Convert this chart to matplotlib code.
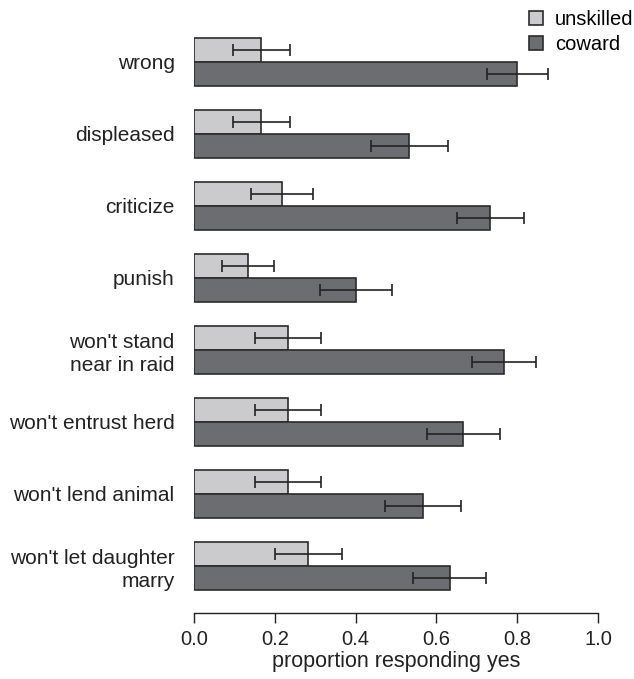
import matplotlib.pyplot as plt
from matplotlib.patches import Patch
import numpy as np

plt.rcParams['font.family'] = ['Liberation Sans', 'DejaVu Sans']

questions = ["wrong", "displeased", "criticize", "punish",
             "won't stand\nnear in raid", "won't entrust herd",
             "won't lend animal", "won't let daughter\nmarry"]

# proportion answering yes, with standard errors
unskilled = [0.167, 0.167, 0.217, 0.133, 0.233, 0.233, 0.233, 0.283]
unskilled_se = [0.070, 0.071, 0.077, 0.064, 0.081, 0.081, 0.081, 0.083]
coward = [0.800, 0.533, 0.733, 0.400, 0.767, 0.667, 0.567, 0.633]
coward_se = [0.075, 0.095, 0.083, 0.089, 0.080, 0.090, 0.095, 0.090]

light = "#cbcbcd"
dark = "#6c6d71"
edge = "#2b2b2b"
ink = "#222222"

fig = plt.figure(figsize=(6.34, 6.79), dpi=100)
ax = fig.add_axes([194 / 634, 1 - 613 / 679, 404 / 634, 583 / 679])

pos = np.arange(len(questions))
h = 1 / 3

ax.barh(pos - h / 2, unskilled, height=h, color=light, edgecolor=edge, linewidth=1.2)
ax.barh(pos + h / 2, coward, height=h, color=dark, edgecolor=edge, linewidth=1.2)
ax.errorbar(unskilled, pos - h / 2, xerr=unskilled_se, fmt='none', ecolor=ink,
            elinewidth=1.2, capsize=4.5, capthick=1.2)
ax.errorbar(coward, pos + h / 2, xerr=coward_se, fmt='none', ecolor=ink,
            elinewidth=1.2, capsize=4.5, capthick=1.2)

ax.set_xlim(0, 1.0)
ax.set_ylim(7.653, -0.444)

for s in ["top", "right", "left"]:
    ax.spines[s].set_visible(False)
ax.spines["bottom"].set_linewidth(1.0)
ax.spines["bottom"].set_color(ink)

ax.set_xticks([0, 0.2, 0.4, 0.6, 0.8, 1.0])
ax.set_xticklabels(["0.0", "0.2", "0.4", "0.6", "0.8", "1.0"])
ax.tick_params(axis="x", direction="out", length=7, width=1.0, color=ink,
               labelsize=14.5, labelcolor=ink, pad=5)
ax.set_yticks(pos)
ax.set_yticklabels(questions, fontsize=15, color=ink, multialignment="right",
                   linespacing=1.25)
ax.tick_params(axis="y", length=0, pad=14)
ax.set_xlabel("proportion responding yes", fontsize=15.5, color=ink, labelpad=2)

handles = [Patch(facecolor=light, edgecolor=edge, linewidth=1.2, label="unskilled"),
           Patch(facecolor=dark, edgecolor=edge, linewidth=1.2, label="coward")]
fig.legend(handles=handles, loc="upper right", bbox_to_anchor=(1.028, 1.012),
           frameon=False, fontsize=14.5, handlelength=0.7, handleheight=0.7,
           handletextpad=0.6, labelspacing=0.3)

fig.savefig("out.png", dpi=100)
